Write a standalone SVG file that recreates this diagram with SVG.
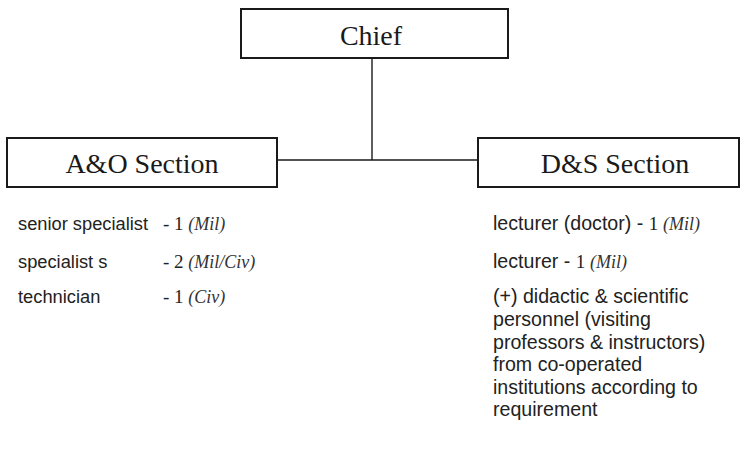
<svg xmlns="http://www.w3.org/2000/svg" width="744" height="452" viewBox="0 0 744 452">
<style>
.box{fill:#fff;stroke:#1a1a1a;stroke-width:2}
.title{font-family:"Liberation Serif",serif;font-size:28px;fill:#1a1a1a;text-anchor:middle}
.body{font-family:"Liberation Sans",Arial,sans-serif;font-size:19.6px;fill:#222}
.left{font-size:18.3px}
.num{font-family:"Liberation Serif",serif;font-size:19px;fill:#222}
.it{font-family:"Liberation Serif",serif;font-style:italic;font-size:18px;fill:#333}
.conn{fill:none;stroke:#1a1a1a;stroke-width:1.4}
</style>
<rect width="744" height="452" fill="#fff"/>
<g id="connectors">
<line class="conn" x1="372" y1="58" x2="372" y2="160"/>
<line class="conn" x1="277" y1="160" x2="478" y2="160"/>
</g>
<g id="chief">
<rect class="box" x="241" y="9" width="267" height="49"/>
<text class="title" x="371" y="45" font-size="29">Chief</text>
</g>
<g id="ao-section">
<rect class="box" x="7" y="138" width="270" height="49"/>
<text class="title" x="142" y="173">A&amp;O Section</text>
</g>
<g id="ds-section">
<rect class="box" x="478" y="138" width="261" height="49"/>
<text class="title" x="615" y="173">D&amp;S Section</text>
</g>
<g id="ao-staff">
<text class="body left" x="18" y="230">senior specialist</text>
<text class="body left" x="18" y="268">specialist s</text>
<text class="body left" x="18" y="303">technician</text>
<text x="163" y="230"><tspan class="num">- 1 </tspan><tspan class="it">(Mil)</tspan></text>
<text x="163" y="268"><tspan class="num">- 2 </tspan><tspan class="it">(Mil/Civ)</tspan></text>
<text x="163" y="303"><tspan class="num">- 1 </tspan><tspan class="it">(Civ)</tspan></text>
</g>
<g id="ds-staff">
<text x="493" y="230"><tspan class="body">lecturer (doctor) - </tspan><tspan class="num">1 </tspan><tspan class="it">(Mil)</tspan></text>
<text x="493" y="268"><tspan class="body">lecturer - </tspan><tspan class="num">1 </tspan><tspan class="it">(Mil)</tspan></text>
<text class="body" x="493" y="303">(+) didactic &amp; scientific</text>
<text class="body" x="493" y="326">personnel (visiting</text>
<text class="body" x="493" y="349">professors &amp; instructors)</text>
<text class="body" x="493" y="371">from co-operated</text>
<text class="body" x="493" y="394">institutions according to</text>
<text class="body" x="493" y="416">requirement</text>
</g>
</svg>
